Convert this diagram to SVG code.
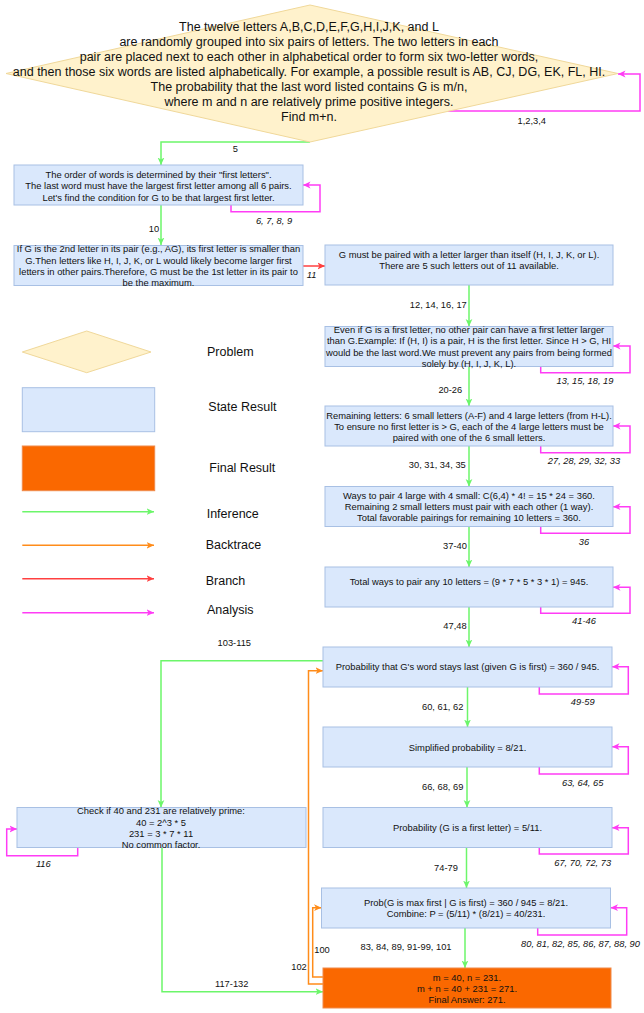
<svg xmlns="http://www.w3.org/2000/svg" width="644" height="1013" viewBox="0 0 644 1013">
  <style>
    text { font-family: "Liberation Sans", Arial, Helvetica, sans-serif; fill: #111; }
    .q { font-size: 12.5px; text-anchor: middle; }
    .t { font-size: 9.4px; text-anchor: middle; }
    .lbl { font-size: 9.3px; text-anchor: middle; }
    .it { font-style: italic; }
    .leg { font-size: 12.5px; }
    .state { fill: #dae8fc; stroke: #a8c0e4; stroke-width: 1; }
    .final { fill: #fa6800; stroke: #f08a4a; stroke-width: 1; }
    .problem { fill: #fff2cc; stroke: #f0d89a; stroke-width: 1; }
    .e { fill: none; stroke-width: 1.5; }
    .inf { stroke: #6cf66a; }
    .bt { stroke: #ff8c1a; }
    .br { stroke: #ff4040; }
    .an { stroke: #ff3cf5; }
  </style>
  <defs>
    <marker id="ah-inf" markerUnits="userSpaceOnUse" markerWidth="8" markerHeight="8" viewBox="0 0 8 8" refX="7.5" refY="4" orient="auto">
      <path d="M0,0.6 L7.5,4 L0,7.4 L2,4 z" fill="#6cf66a"/>
    </marker>
    <marker id="ah-bt" markerUnits="userSpaceOnUse" markerWidth="8" markerHeight="8" viewBox="0 0 8 8" refX="7.5" refY="4" orient="auto">
      <path d="M0,0.6 L7.5,4 L0,7.4 L2,4 z" fill="#ff8c1a"/>
    </marker>
    <marker id="ah-br" markerUnits="userSpaceOnUse" markerWidth="8" markerHeight="8" viewBox="0 0 8 8" refX="7.5" refY="4" orient="auto">
      <path d="M0,0.6 L7.5,4 L0,7.4 L2,4 z" fill="#ff4040"/>
    </marker>
    <marker id="ah-an" markerUnits="userSpaceOnUse" markerWidth="8" markerHeight="8" viewBox="0 0 8 8" refX="7.5" refY="4" orient="auto">
      <path d="M0,0.6 L7.5,4 L0,7.4 L2,4 z" fill="#ff3cf5"/>
    </marker>
  </defs>
  <rect width="644" height="1013" fill="#ffffff"/>

  <!-- connectors -->
  <g id="connectors">
    <!-- inference -->
    <path class="e inf" d="M310,142 H161 V165" marker-end="url(#ah-inf)"/>
    <path class="e inf" d="M161,205 V245" marker-end="url(#ah-inf)"/>
    <path class="e inf" d="M469,285 V326.5" marker-end="url(#ah-inf)"/>
    <path class="e inf" d="M469,366.5 V406" marker-end="url(#ah-inf)"/>
    <path class="e inf" d="M469,446 V486.5" marker-end="url(#ah-inf)"/>
    <path class="e inf" d="M469,526.5 V567" marker-end="url(#ah-inf)"/>
    <path class="e inf" d="M469,607 V647" marker-end="url(#ah-inf)"/>
    <path class="e inf" d="M467.5,687 V727" marker-end="url(#ah-inf)"/>
    <path class="e inf" d="M467,767 V807.5" marker-end="url(#ah-inf)"/>
    <path class="e inf" d="M466.5,847.5 V888" marker-end="url(#ah-inf)"/>
    <path class="e inf" d="M465,928 V968" marker-end="url(#ah-inf)"/>
    <path class="e inf" d="M323,660.7 H161 V807.5" marker-end="url(#ah-inf)"/>
    <path class="e inf" d="M162,847.5 V991.7 H323" marker-end="url(#ah-inf)"/>
    <!-- branch -->
    <path class="e br" d="M303,266 H325" marker-end="url(#ah-br)"/>
    <!-- backtrace -->
    <path class="e bt" d="M323,977 H312.7 V907.7 H321.5" marker-end="url(#ah-bt)"/>
    <path class="e bt" d="M323,984 H308.5 V670.7 H323" marker-end="url(#ah-bt)"/>
    <!-- analysis -->
    <path class="e an" d="M448,111 H640 V74 H618" marker-end="url(#ah-an)"/>
    <path class="e an" d="M231,205 V211.7 H320 V185 H303" marker-end="url(#ah-an)"/>
    <path class="e an" d="M540.7,366.5 V372.7 H630 V346 H613" marker-end="url(#ah-an)"/>
    <path class="e an" d="M540.7,446 V452.7 H630 V426 H613" marker-end="url(#ah-an)"/>
    <path class="e an" d="M540.7,526.5 V533.3 H630 V506.7 H613" marker-end="url(#ah-an)"/>
    <path class="e an" d="M540.7,607 V613.3 H630 V587.3 H613" marker-end="url(#ah-an)"/>
    <path class="e an" d="M539.3,687 V694 H628.3 V666.7 H612" marker-end="url(#ah-an)"/>
    <path class="e an" d="M539.3,767 V774 H628.3 V746.7 H612" marker-end="url(#ah-an)"/>
    <path class="e an" d="M539.3,847.5 V854 H628.3 V827.7 H612" marker-end="url(#ah-an)"/>
    <path class="e an" d="M537.7,928 V935 H626.7 V907.7 H610.5" marker-end="url(#ah-an)"/>
    <path class="e an" d="M77.7,847.5 V855.7 H6.7 V829 H17" marker-end="url(#ah-an)"/>

    <!-- connector labels -->
    <text class="lbl" x="235.3" y="151.6">5</text>
    <text class="lbl" x="531.7" y="124">1,2,3,4</text>
    <text class="lbl it" x="274" y="224">6, 7, 8, 9</text>
    <text class="lbl" x="154" y="231.6">10</text>
    <text class="lbl it" x="311.7" y="278.3">11</text>
    <text class="lbl" x="438.3" y="308.3">12, 14, 16, 17</text>
    <text class="lbl it" x="585" y="384.3">13, 15, 18, 19</text>
    <text class="lbl" x="450.3" y="392.6">20-26</text>
    <text class="lbl it" x="584" y="464.3">27, 28, 29, 32, 33</text>
    <text class="lbl" x="437.3" y="468.3">30, 31, 34, 35</text>
    <text class="lbl it" x="584" y="545">36</text>
    <text class="lbl" x="455" y="549">37-40</text>
    <text class="lbl it" x="584" y="624.3">41-46</text>
    <text class="lbl" x="455" y="629.3">47,48</text>
    <text class="lbl" x="234.3" y="646">103-115</text>
    <text class="lbl it" x="582.7" y="705">49-59</text>
    <text class="lbl" x="442.7" y="710">60, 61, 62</text>
    <text class="lbl it" x="582.7" y="785.6">63, 64, 65</text>
    <text class="lbl" x="442.7" y="790">66, 68, 69</text>
    <text class="lbl it" x="43.3" y="866.6">116</text>
    <text class="lbl it" x="582.7" y="865.6">67, 70, 72, 73</text>
    <text class="lbl" x="446" y="870.6">74-79</text>
    <text class="lbl it" x="580.5" y="946.6">80, 81, 82, 85, 86, 87, 88, 90</text>
    <text class="lbl" x="406" y="950">83, 84, 89, 91-99, 101</text>
    <text class="lbl" x="322" y="953.3">100</text>
    <text class="lbl" x="299" y="970">102</text>
    <text class="lbl" x="231.7" y="987.3">117-132</text>
  </g>

  <!-- problem statement -->
  <g id="problem">
    <polygon class="problem" points="310,5 618,73.5 310,142 6,73.5"/>
    <text class="q" x="309" y="31.2">The twelve letters A,B,C,D,E,F,G,H,I,J,K, and L</text>
    <text class="q" x="309" y="46.2">are randomly grouped into six pairs of letters. The two letters in each</text>
    <text class="q" x="309" y="61.2">pair are placed next to each other in alphabetical order to form six two-letter words,</text>
    <text class="q" x="309" y="76.2">and then those six words are listed alphabetically. For example, a possible result is AB, CJ, DG, EK, FL, HI.</text>
    <text class="q" x="309" y="91.2">The probability that the last word listed contains G is m/n,</text>
    <text class="q" x="309" y="106.2">where m and n are relatively prime positive integers.</text>
    <text class="q" x="309" y="121.2">Find m+n.</text>
  </g>

  <g id="step-first-letters">
    <rect class="state" x="14" y="165" width="289" height="40"/>
    <text class="t" x="158.5" y="178">The order of words is determined by their "first letters".</text>
    <text class="t" x="158.5" y="189.3">The last word must have the largest first letter among all 6 pairs.</text>
    <text class="t" x="158.5" y="200.6">Let's find the condition for G to be that largest first letter.</text>
  </g>

  <g id="step-g-second">
    <rect class="state" x="14" y="245.5" width="289" height="40"/>
    <text class="t" x="158.5" y="252.4">If G is the 2nd letter in its pair (e.g., AG), its first letter is smaller than</text>
    <text class="t" x="158.5" y="263.6">G.Then letters like H, I, J, K, or L would likely become larger first</text>
    <text class="t" x="158.5" y="274.8">letters in other pairs.Therefore, G must be the 1st letter in its pair to</text>
    <text class="t" x="158.5" y="286">be the maximum.</text>
  </g>

  <g id="step-g-partner">
    <rect class="state" x="325" y="245" width="288" height="40"/>
    <text class="t" x="469" y="258.3">G must be paired with a letter larger than itself (H, I, J, K, or L).</text>
    <text class="t" x="469" y="269">There are 5 such letters out of 11 available.</text>
  </g>

  <g id="step-no-larger">
    <rect class="state" x="325" y="326.5" width="288" height="40"/>
    <text class="t" x="469" y="333.3">Even if G is a first letter, no other pair can have a first letter larger</text>
    <text class="t" x="469" y="344.4">than G.Example: If (H, I) is a pair, H is the first letter. Since H &gt; G, HI</text>
    <text class="t" x="469" y="355.6">would be the last word.We must prevent any pairs from being formed</text>
    <text class="t" x="469" y="366.8">solely by (H, I, J, K, L).</text>
  </g>

  <g id="step-remaining">
    <rect class="state" x="325" y="406" width="288" height="40"/>
    <text class="t" x="469" y="419">Remaining letters: 6 small letters (A-F) and 4 large letters (from H-L).</text>
    <text class="t" x="469" y="430">To ensure no first letter is &gt; G, each of the 4 large letters must be</text>
    <text class="t" x="469" y="441">paired with one of the 6 small letters.</text>
  </g>

  <g id="step-favorable">
    <rect class="state" x="325" y="486.5" width="288" height="40"/>
    <text class="t" x="469" y="498.6">Ways to pair 4 large with 4 small: C(6,4) * 4! = 15 * 24 = 360.</text>
    <text class="t" x="469" y="510">Remaining 2 small letters must pair with each other (1 way).</text>
    <text class="t" x="469" y="521">Total favorable pairings for remaining 10 letters = 360.</text>
  </g>

  <g id="step-total">
    <rect class="state" x="325" y="567" width="288" height="40"/>
    <text class="t" x="469" y="585">Total ways to pair any 10 letters = (9 * 7 * 5 * 3 * 1) = 945.</text>
  </g>

  <g id="step-stays-last">
    <rect class="state" x="323" y="647" width="289" height="40"/>
    <text class="t" x="467.5" y="670">Probability that G's word stays last (given G is first) = 360 / 945.</text>
  </g>

  <g id="step-simplified">
    <rect class="state" x="323" y="727" width="289" height="40"/>
    <text class="t" x="467.5" y="750.6">Simplified probability = 8/21.</text>
  </g>

  <g id="step-g-first">
    <rect class="state" x="323" y="807.5" width="289" height="40"/>
    <text class="t" x="467.5" y="831">Probability (G is a first letter) = 5/11.</text>
  </g>

  <g id="step-combine">
    <rect class="state" x="321.5" y="888" width="289" height="40"/>
    <text class="t" x="466" y="906">Prob(G is max first | G is first) = 360 / 945 = 8/21.</text>
    <text class="t" x="466" y="917.3">Combine: P = (5/11) * (8/21) = 40/231.</text>
  </g>

  <g id="step-coprime">
    <rect class="state" x="17" y="807.5" width="289" height="40"/>
    <text class="t" x="161" y="814.3">Check if 40 and 231 are relatively prime:</text>
    <text class="t" x="161" y="825.6">40 = 2^3 * 5</text>
    <text class="t" x="161" y="836.6">231 = 3 * 7 * 11</text>
    <text class="t" x="161" y="847.6">No common factor.</text>
  </g>

  <g id="final-answer">
    <rect class="final" x="323" y="968" width="288" height="40"/>
    <text class="t" x="467" y="980.6">m = 40, n = 231.</text>
    <text class="t" x="467" y="992.3">m + n = 40 + 231 = 271.</text>
    <text class="t" x="467" y="1003.3">Final Answer: 271.</text>
  </g>

  <!-- legend -->
  <g id="legend">
    <polygon class="problem" points="86.7,331 151,352 86.7,372.7 22.3,352"/>
    <text class="leg" x="207" y="356.2">Problem</text>
    <rect class="state" x="22.3" y="387.7" width="132.4" height="44"/>
    <text class="leg" x="208.3" y="411.2">State Result</text>
    <rect class="final" x="22.3" y="446" width="132.4" height="44.7"/>
    <text class="leg" x="209.3" y="471.8">Final Result</text>
    <path class="e inf" d="M22.3,511.7 H154" marker-end="url(#ah-inf)"/>
    <text class="leg" x="206.7" y="517.8">Inference</text>
    <path class="e bt" d="M22.3,545.3 H154" marker-end="url(#ah-bt)"/>
    <text class="leg" x="205.7" y="548.5">Backtrace</text>
    <path class="e br" d="M22.3,578.7 H154" marker-end="url(#ah-br)"/>
    <text class="leg" x="205.7" y="585.2">Branch</text>
    <path class="e an" d="M22.3,612.7 H154" marker-end="url(#ah-an)"/>
    <text class="leg" x="207" y="613.8">Analysis</text>
  </g>
</svg>
